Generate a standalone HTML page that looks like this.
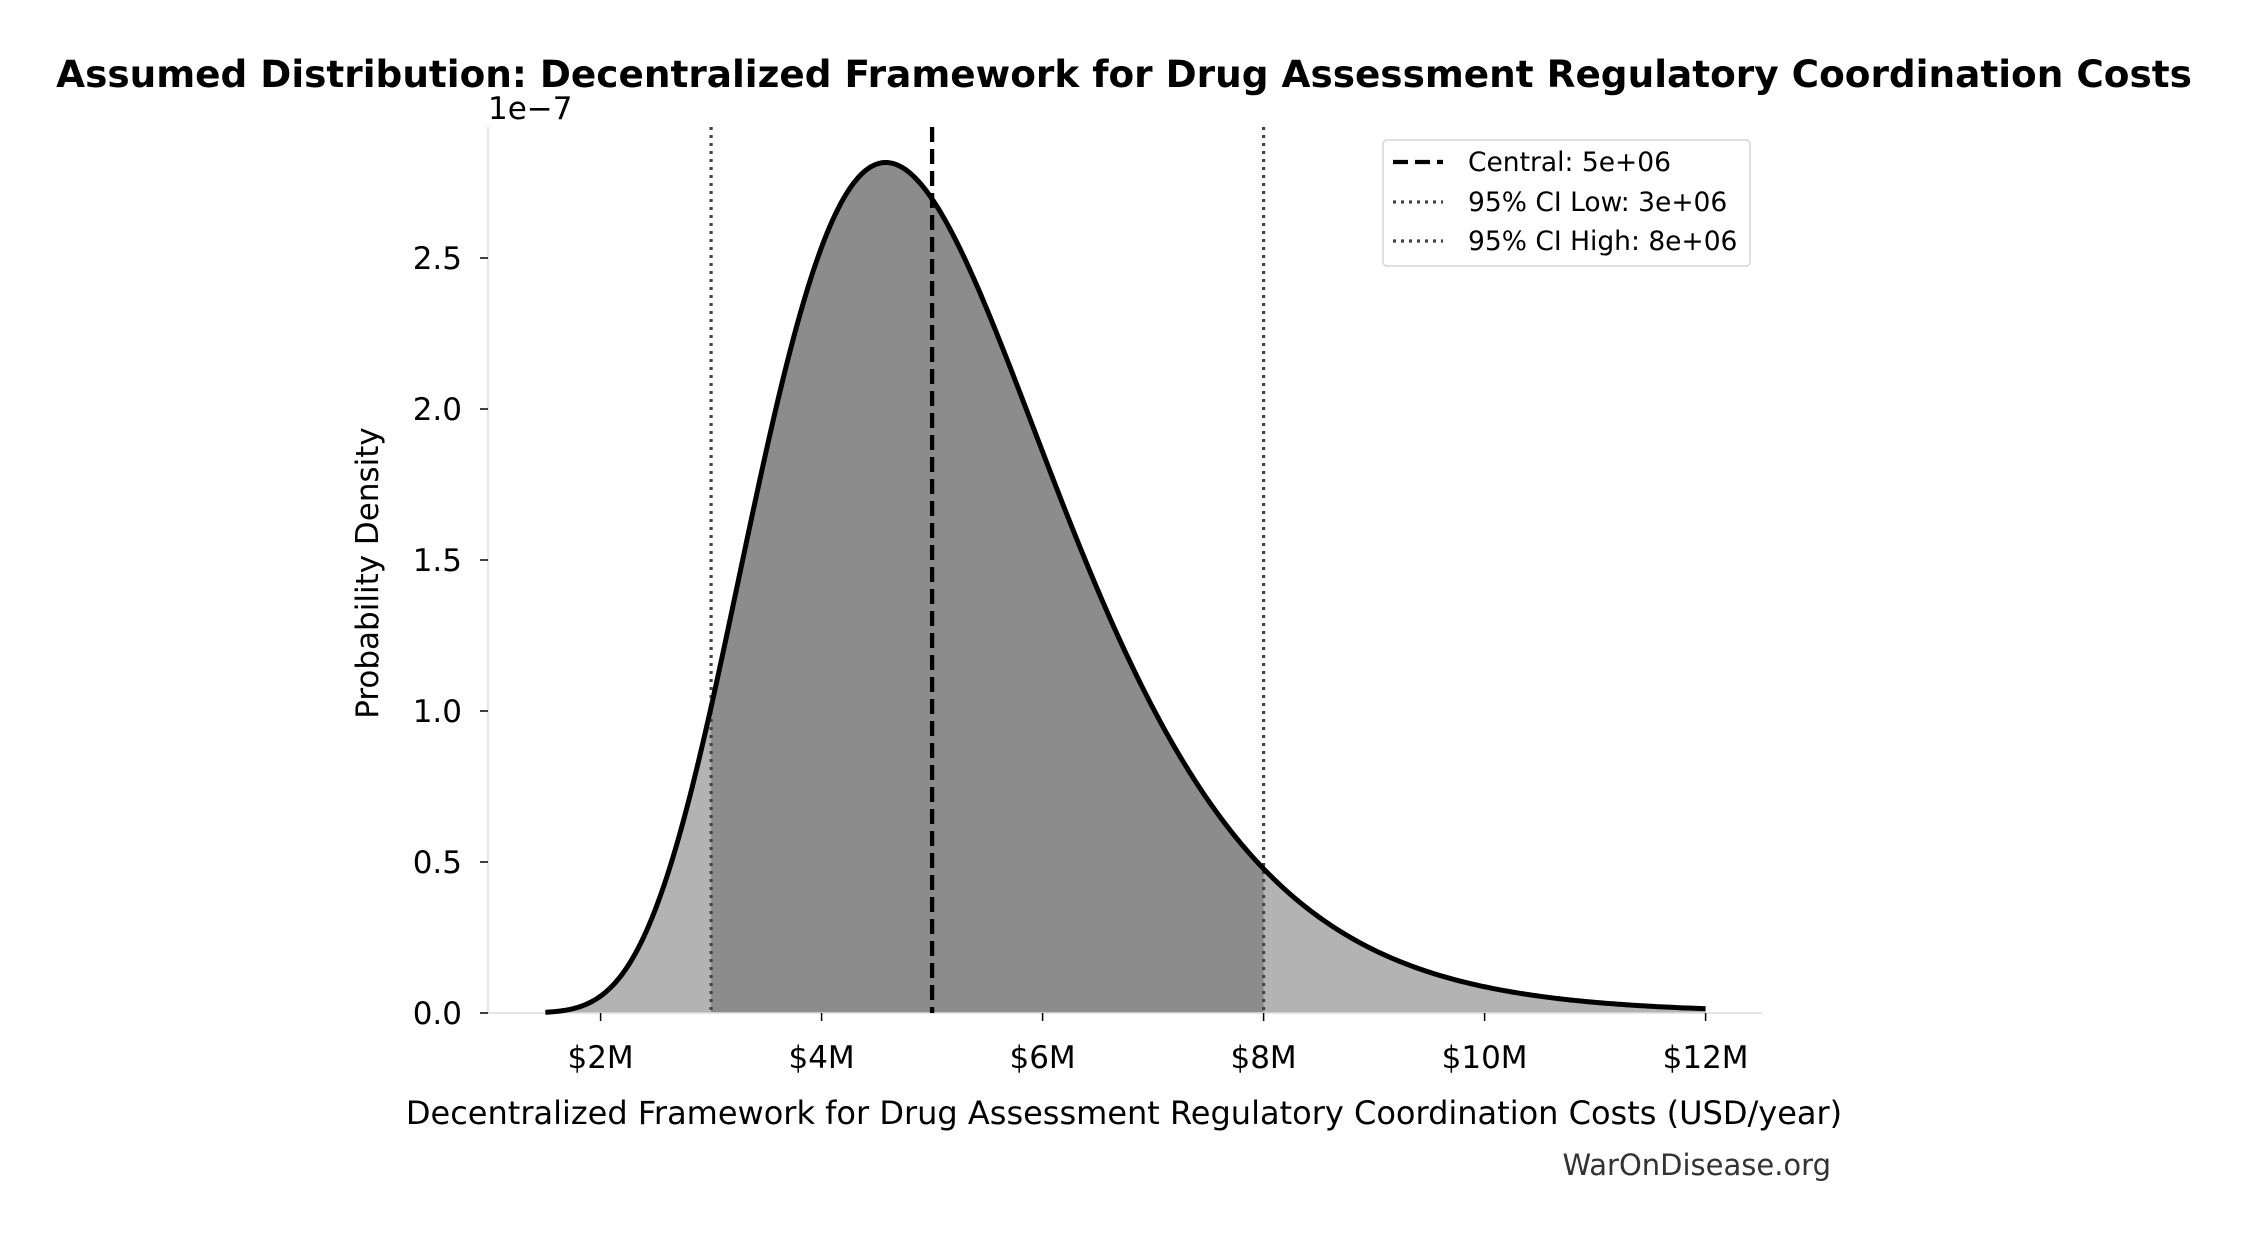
<!DOCTYPE html>
<html><head><meta charset="utf-8"><style>
html,body{margin:0;padding:0;background:#fff;}
svg text{font-family:"DejaVu Sans","Liberation Sans",sans-serif;}
</style></head><body>
<svg id="s" width="2250" height="1234" viewBox="0 0 2250 1234" xmlns="http://www.w3.org/2000/svg">
<rect width="2250" height="1234" fill="#fff"/>
<text x="1124" y="87" text-anchor="middle" font-size="37.4" font-weight="bold" fill="#000">Assumed Distribution: Decentralized Framework for Drug Assessment Regulatory Coordination Costs</text>
<text x="488" y="119" font-size="31" fill="#000">1e−7</text>
<g id="fills"></g>
<line x1="488" y1="127" x2="488" y2="1013" stroke="#ddd" stroke-width="1.5"/>
<line x1="488" y1="1013" x2="1762" y2="1013" stroke="#ddd" stroke-width="1.5"/>
<g id="ticks" font-size="31" fill="#000"></g>
<line id="l3" y1="127" y2="1013" stroke="#444" stroke-width="3.2" stroke-dasharray="3,5"/>
<line id="l8" y1="127" y2="1013" stroke="#444" stroke-width="3.2" stroke-dasharray="3,5"/>
<path id="curve" fill="none" stroke="#000" stroke-width="5"/>
<line id="l5" y1="127" y2="1013" stroke="#000" stroke-width="4.3" stroke-dasharray="15,7"/>
<rect x="1383" y="140" width="367" height="126" rx="4" fill="#fff" stroke="#d5d5d5" stroke-width="1.5"/>
<line x1="1393" y1="162" x2="1443" y2="162" stroke="#000" stroke-width="4.3" stroke-dasharray="15,7"/>
<line x1="1393" y1="202" x2="1443" y2="202" stroke="#444" stroke-width="3.2" stroke-dasharray="3,5"/>
<line x1="1393" y1="241" x2="1443" y2="241" stroke="#444" stroke-width="3.2" stroke-dasharray="3,5"/>
<text x="1468" y="171" font-size="26.5">Central: 5e+06</text>
<text x="1468" y="211" font-size="26.5">95% CI Low: 3e+06</text>
<text x="1468" y="250" font-size="26.5">95% CI High: 8e+06</text>
<text x="1124" y="1124" text-anchor="middle" font-size="32">Decentralized Framework for Drug Assessment Regulatory Coordination Costs (USD/year)</text>
<text transform="translate(378,573) rotate(-90)" text-anchor="middle" font-size="31">Probability Density</text>
<text x="1831" y="1175" text-anchor="end" font-size="29" fill="#333">WarOnDisease.org</text>
</svg>
<script>
var X0=379.6,XS=110.5,Y0=1013,YS=302;
function X(m){return X0+m*XS;}
function pdf(m){var s=0.296,mu=Math.log(5);var z=(Math.log(m)-mu)/s;return Math.exp(-z*z/2)/(m*s*Math.sqrt(2*Math.PI))*10;}
function Y(m){return Y0-pdf(m)*YS;}
function pts(a,b){var r=[];for(var i=0;i<=400;i++){var m=a+(b-a)*i/400;r.push(X(m).toFixed(2)+","+Y(m).toFixed(2));}return r;}
function area(a,b,c){var p=pts(a,b);return '<path d="M'+X(a)+','+Y0+' L'+p.join(' L')+' L'+X(b)+','+Y0+' Z" fill="'+c+'"/>';}
document.getElementById('fills').innerHTML=area(1.5,12,'#b3b3b3')+area(3,8,'#8c8c8c');
document.getElementById('curve').setAttribute('d','M'+pts(1.5,12).join(' L'));
[['l3',3],['l5',5],['l8',8]].forEach(function(a){var e=document.getElementById(a[0]);e.setAttribute('x1',X(a[1]));e.setAttribute('x2',X(a[1]));});
var t='';
for(var k=2;k<=12;k+=2){var x=X(k);t+='<line x1="'+x+'" y1="1013" x2="'+x+'" y2="1021" stroke="#000" stroke-width="1.5"/><text x="'+x+'" y="1068" text-anchor="middle">$'+k+'M</text>';}
for(var j=0;j<=5;j++){var v=j*0.5;var y=Y0-v*YS;t+='<line x1="480" y1="'+y+'" x2="488" y2="'+y+'" stroke="#000" stroke-width="1.5"/><text x="462" y="'+(y+11)+'" text-anchor="end">'+v.toFixed(1)+'</text>';}
document.getElementById('ticks').innerHTML=t;
</script>
</body></html>
